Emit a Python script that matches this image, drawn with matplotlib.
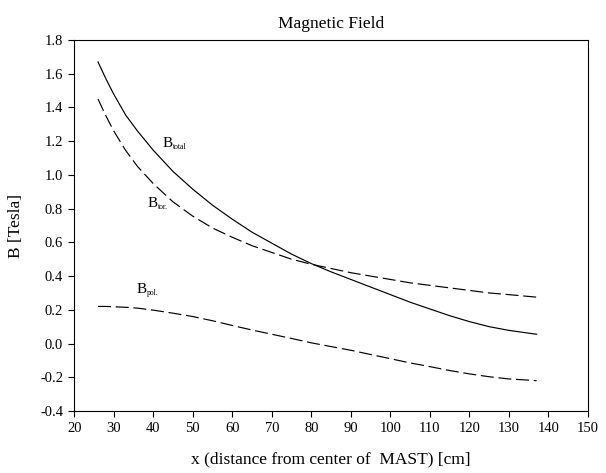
import matplotlib
matplotlib.use("Agg")
import matplotlib.pyplot as plt

# values
x_cm = [26, 28, 30, 33, 36, 40, 45, 50, 55, 60, 65, 70, 75, 80, 85, 90, 95,
        100, 105, 110, 115, 120, 125, 130, 137]
b_total = [1.67, 1.57, 1.478, 1.355, 1.26, 1.146, 1.02, 0.915, 0.82, 0.737, 0.66,
           0.595, 0.53, 0.474, 0.425, 0.38, 0.335, 0.29, 0.245, 0.205, 0.165,
           0.13, 0.10, 0.078, 0.055]
b_tor = [1.45, 1.35, 1.26, 1.145, 1.05, 0.948, 0.84, 0.755, 0.685, 0.63, 0.58,
         0.54, 0.50, 0.47, 0.445, 0.42, 0.40, 0.38, 0.36, 0.345, 0.33, 0.315,
         0.30, 0.29, 0.275]
b_pol = [0.22, 0.22, 0.218, 0.215, 0.21, 0.198, 0.18, 0.16, 0.135, 0.107, 0.08,
         0.055, 0.03, 0.004, -0.018, -0.04, -0.065, -0.09, -0.115, -0.137,
         -0.16, -0.18, -0.197, -0.21, -0.22]

x_ticks = list(range(20, 151, 10))
y_ticks = [-0.4, -0.2, 0.0, 0.2, 0.4, 0.6, 0.8, 1.0, 1.2, 1.4, 1.6, 1.8]

# curve labels: (x, y, main, subscript)
curve_labels = [(42.4, 1.167, "B", "total"),
                (38.6, 0.81, "B", "tor."),
                (35.8, 0.30, "B", "pol.")]

plt.rcParams["font.family"] = ["Liberation Serif", "DejaVu Serif"]


def main():
    fig = plt.figure(figsize=(6.06, 4.73), dpi=100)
    ax = fig.add_axes([0.1226, 0.1311, 0.8477, 0.7843])

    ax.plot(x_cm, b_total, color="black", linewidth=0.85)
    ax.plot(x_cm, b_tor, color="black", linewidth=0.85, dashes=(11, 4))
    ax.plot(x_cm, b_pol, color="black", linewidth=0.85, dashes=(11, 4))

    for x, y, main_txt, sub_txt in curve_labels:
        ax.text(x, y, main_txt, fontsize=11, va="baseline")
        ax.annotate(sub_txt, xy=(x, y), xytext=(7.3, -1.5),
                    textcoords="offset points", fontsize=5.5, va="baseline")

    ax.set_xlim(20, 150)
    ax.set_ylim(-0.4, 1.8)
    ax.set_xticks(x_ticks)
    ax.set_yticks(y_ticks)
    ax.set_yticklabels([f"{v:.1f}" for v in y_ticks])
    ax.tick_params(direction="out", length=4, width=0.8, labelsize=10.5,
                   top=False, right=False)
    ax.tick_params(axis="x", pad=4)
    ax.tick_params(axis="y", pad=4)
    for s in ax.spines.values():
        s.set_linewidth(0.8)

    ax.set_xlabel("x (distance from center of  MAST) [cm]", fontsize=12.5, labelpad=12)
    ax.set_ylabel("B [Tesla]", fontsize=12.5, labelpad=12)
    ax.set_title("Magnetic Field", fontsize=12.5, pad=9)

    fig.savefig("out.png", dpi=100)


if __name__ == "__main__":
    main()
